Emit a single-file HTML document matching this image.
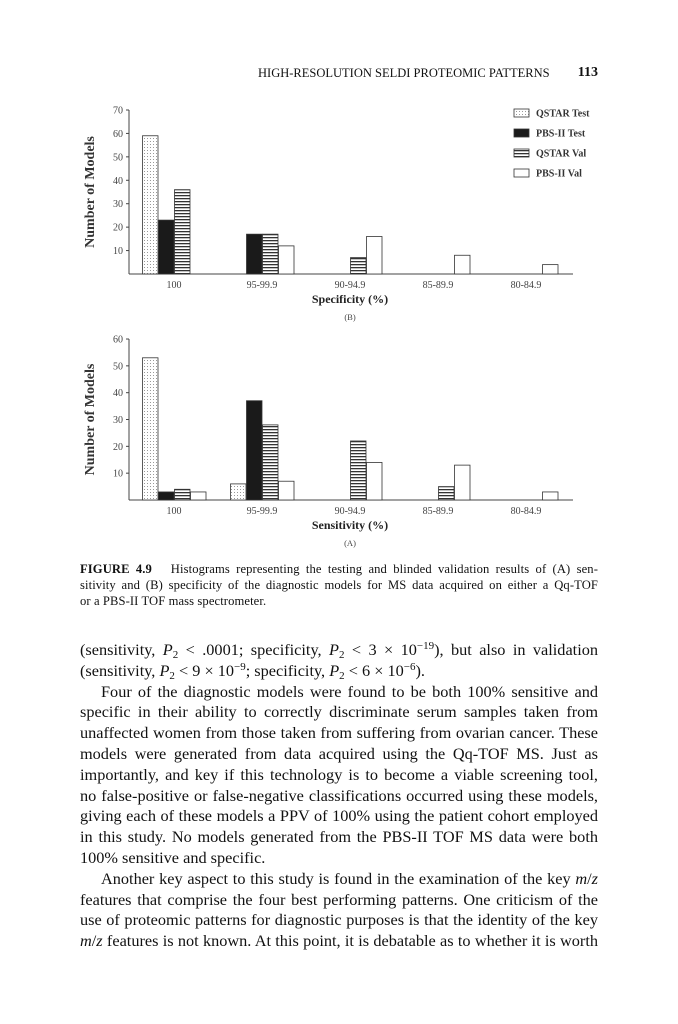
<!DOCTYPE html>
<html><head><meta charset="utf-8"><style>
html,body{margin:0;padding:0;background:#fff;}
body{width:678px;height:1024px;position:relative;overflow:hidden;font-family:"Liberation Serif",serif;color:#111;}
.hdr{position:absolute;top:66px;left:258px;width:340px;font-size:12.5px;}
.hdr b{position:absolute;right:0;top:-1px;font-size:14px;}
.cap{position:absolute;left:80px;top:562px;width:518px;font-size:12.6px;line-height:15.8px;letter-spacing:0.1px;}
.cap div{text-align:justify;text-align-last:justify;white-space:nowrap;}
.body{position:absolute;left:80px;top:640px;width:518px;font-size:16.3px;line-height:20.8px;}
.body div{text-align:justify;text-align-last:justify;white-space:nowrap;}
.body div.l{text-align-last:left;}
.body div.i{padding-left:21px;}
sub{font-size:11px;vertical-align:-3px;line-height:0}
sup{font-size:11px;vertical-align:6px;line-height:0}
svg{position:absolute;left:0;top:0;}
</style></head><body>
<div class="hdr">HIGH-RESOLUTION SELDI PROTEOMIC PATTERNS<b>113</b></div>
<svg id="s" width="678" height="560" font-family="Liberation Serif, serif">
<defs>
<pattern id="dot" width="3" height="3" patternUnits="userSpaceOnUse"><rect width="3" height="3" fill="#fff"/><rect width="1" height="1" fill="#999"/></pattern>
<pattern id="hs" width="4" height="3" patternUnits="userSpaceOnUse"><rect width="4" height="3" fill="#fff"/><rect width="4" height="1.3" fill="#333"/></pattern>
</defs>
</svg>
<div class="cap">
<div><b>FIGURE 4.9</b>&nbsp;&nbsp; Histograms representing the testing and blinded validation results of (A) sen-</div>
<div>sitivity and (B) specificity of the diagnostic models for MS data acquired on either a Qq-TOF</div>
<div style="text-align-last:left">or a PBS-II TOF mass spectrometer.</div>
</div>
<div class="body">
<div>(sensitivity, <i>P</i><sub>2</sub> &lt; .0001; specificity, <i>P</i><sub>2</sub> &lt; 3 × 10<sup>−19</sup>), but also in validation</div>
<div class="l">(sensitivity, <i>P</i><sub>2</sub> &lt; 9 × 10<sup>−9</sup>; specificity, <i>P</i><sub>2</sub> &lt; 6 × 10<sup>−6</sup>).</div>
<div class="i">Four of the diagnostic models were found to be both 100% sensitive and</div>
<div>specific in their ability to correctly discriminate serum samples taken from</div>
<div>unaffected women from those taken from suffering from ovarian cancer. These</div>
<div>models were generated from data acquired using the Qq-TOF MS. Just as</div>
<div>importantly, and key if this technology is to become a viable screening tool,</div>
<div>no false-positive or false-negative classifications occurred using these models,</div>
<div>giving each of these models a PPV of 100% using the patient cohort employed</div>
<div>in this study. No models generated from the PBS-II TOF MS data were both</div>
<div class="l">100% sensitive and specific.</div>
<div class="i">Another key aspect to this study is found in the examination of the key <i>m</i>/<i>z</i></div>
<div>features that comprise the four best performing patterns. One criticism of the</div>
<div>use of proteomic patterns for diagnostic purposes is that the identity of the key</div>
<div><i>m</i>/<i>z</i> features is not known. At this point, it is debatable as to whether it is worth</div>
</div>
<script>
var s=document.getElementById('s'),h='';
var fills=['url(#dot)','#1a1a1a','url(#hs)','#fff'];
var cats=['100','95-99.9','90-94.9','85-89.9','80-84.9'];
function chart(base,unit,max,data,title,tag){
  h+='<line x1="129" y1="'+(base-max*unit)+'" x2="129" y2="'+base+'" stroke="#444" stroke-width="1"/>';
  h+='<line x1="129" y1="'+base+'" x2="573" y2="'+base+'" stroke="#444" stroke-width="1"/>';
  for(var v=10;v<=max;v+=10){var y=base-v*unit;
    h+='<line x1="126" y1="'+y+'" x2="129" y2="'+y+'" stroke="#444"/>';
    h+='<text x="123" y="'+(y+3.5)+'" font-size="10" text-anchor="end" fill="#444">'+v+'</text>';}
  for(var g=0;g<5;g++){var x0=142+88*g;
    h+='<text x="'+(x0+32)+'" y="'+(base+14)+'" font-size="10" text-anchor="middle" fill="#444">'+cats[g]+'</text>';
    for(var k=0;k<4;k++){var val=data[g][k];if(!val)continue;var hh=val*unit;
      h+='<rect x="'+(x0+16*k+0.5)+'" y="'+(base-hh)+'" width="15.5" height="'+hh+'" fill="'+fills[k]+'" stroke="#333" stroke-width="0.8"/>';}}
  h+='<text x="350" y="'+(base+29)+'" font-size="12" font-weight="bold" text-anchor="middle" fill="#222">'+title+'</text>';
  h+='<text x="350" y="'+(base+46)+'" font-size="8.5" text-anchor="middle" fill="#444">'+tag+'</text>';
  var cy=base-max*unit/2;
  h+='<text transform="translate(94,'+cy+') rotate(-90)" font-size="14" font-weight="bold" text-anchor="middle" fill="#333">Number of Models</text>';
}
chart(274,2.343,70,[[59,23,36,0],[0,17,17,12],[0,0,7,16],[0,0,0,8],[0,0,0,4]],'Specificity (%)','(B)');
chart(500,2.683,60,[[53,3,4,3],[6,37,28,7],[0,0,22,14],[0,0,5,13],[0,0,0,3]],'Sensitivity (%)','(A)');
var lg=['QSTAR Test','PBS-II Test','QSTAR Val','PBS-II Val'];
for(var k=0;k<4;k++){var y=113+20*k;
  h+='<rect x="514" y="'+(y-4)+'" width="15" height="8" fill="'+fills[k]+'" stroke="#333" stroke-width="0.8"/>';
  h+='<text x="536" y="'+(y+3.5)+'" font-size="10" font-weight="bold" fill="#333">'+lg[k]+'</text>';}
s.innerHTML+=h;
</script>
</body></html>
